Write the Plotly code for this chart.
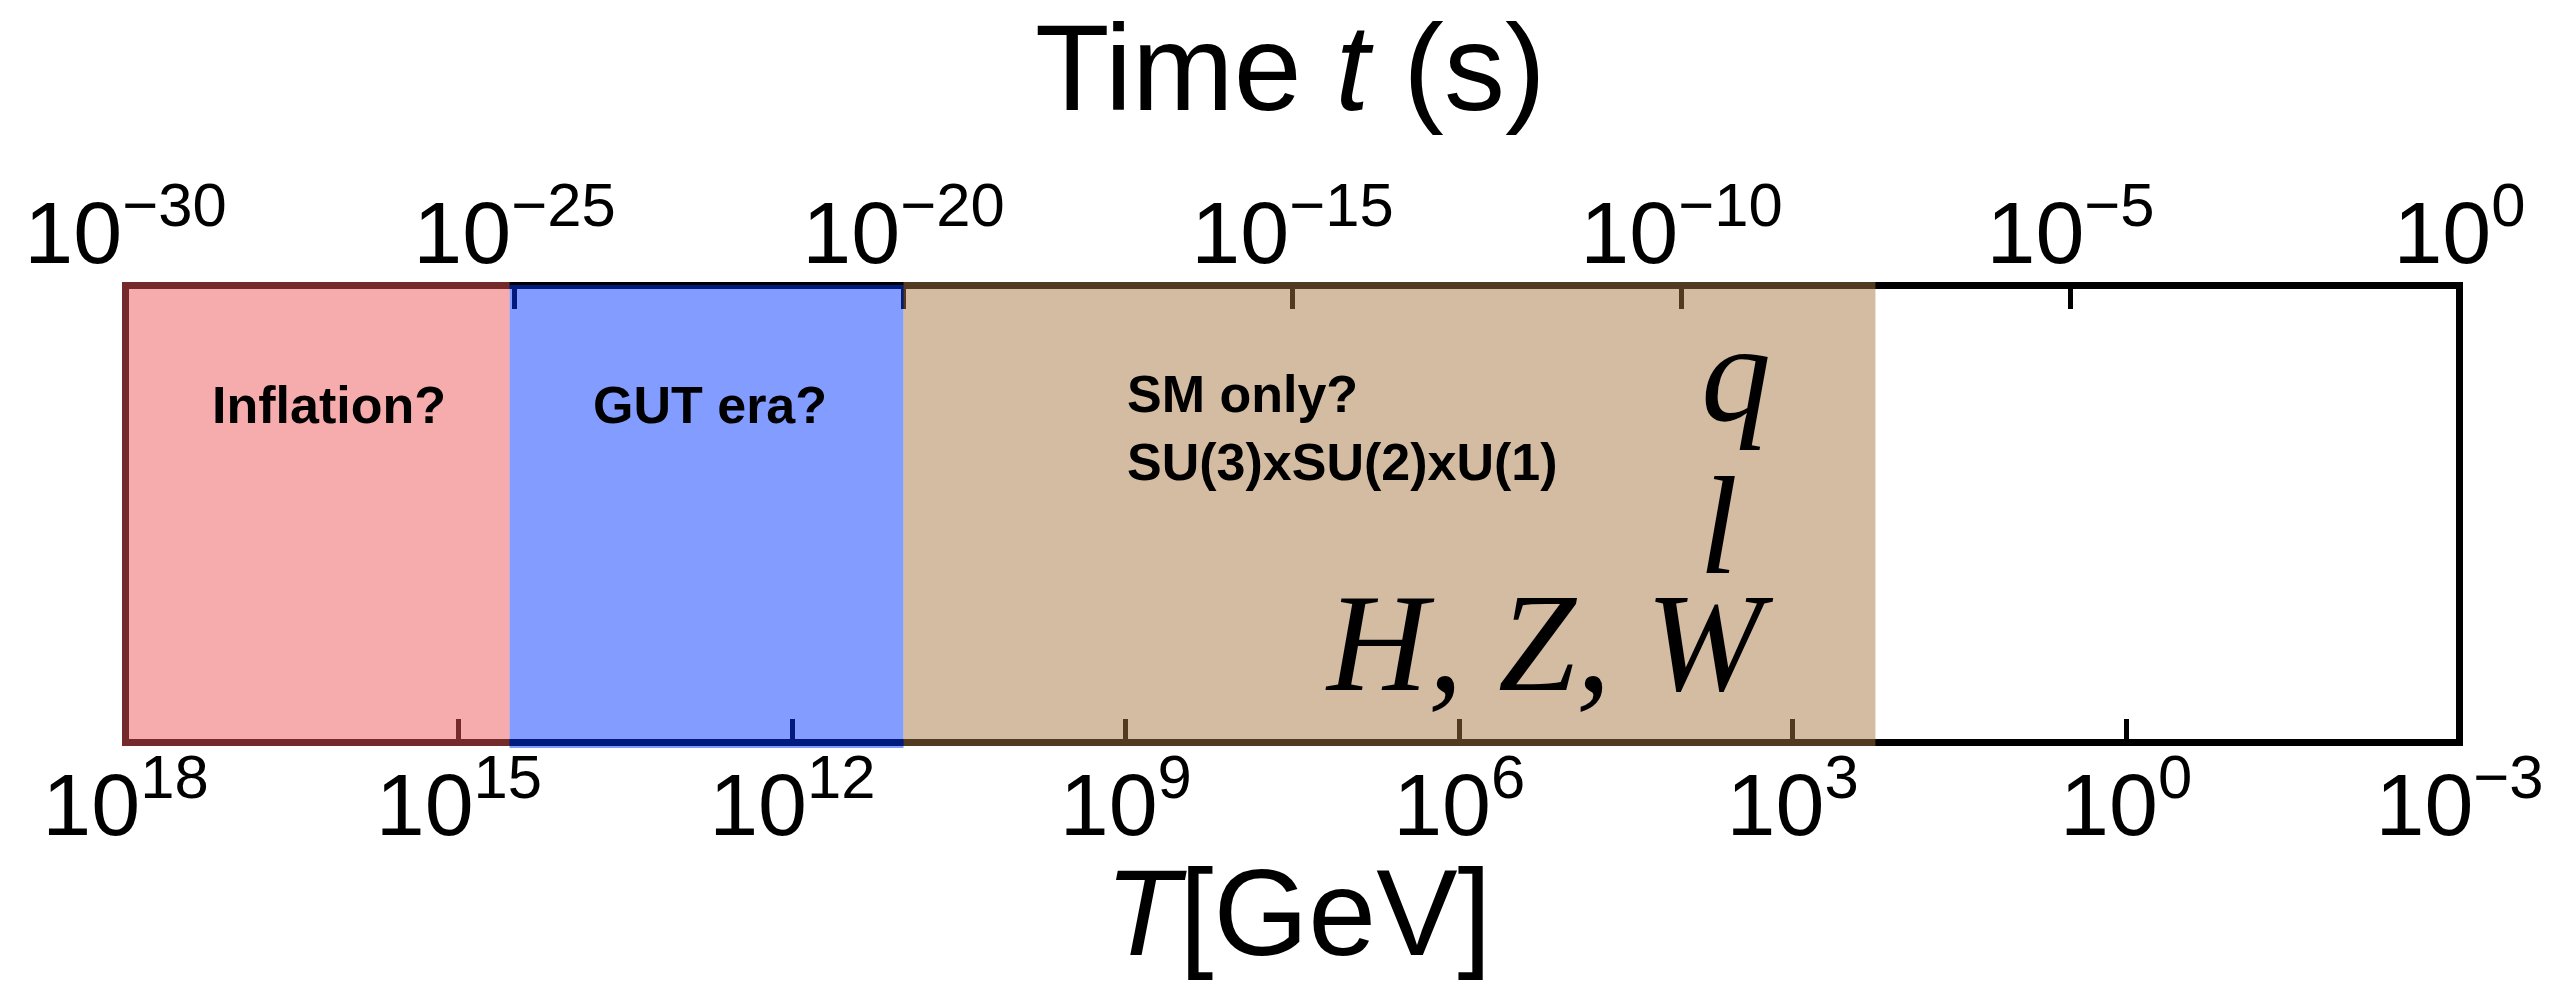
import plotly.graph_objects as go

# ---------------- data ----------------
era_names = ["Inflation?", "GUT era?", "SM only?<br>SU(3)xSU(2)xU(1)"]
era_T_bounds = [1e18, 3.5e14, 1e11, 180.0]          # GeV, era boundaries
era_fill = ["rgba(237,85,87,0.49)", "rgba(0,53,255,0.49)", "rgba(167,118,65,0.49)"]
T_tick_exp = [18, 15, 12, 9, 6, 3, 0, -3]            # bottom axis, T [GeV]
t_tick_exp = [-30, -25, -20, -15, -10, -5, 0]        # top axis, time [s]
T_axis_exp = [18, -3]
t_axis_exp = [-30, 0]
particle_labels = ["q", "l", "H, Z, W"]

# ---------------- geometry (px) ----------------
FIG_W, FIG_H = 2561, 983
L, R, T, B = 122, 2463, 282, 746      # outer edges of the frame
SPINE = 7
PW, PH = R - L, B - T
half = SPINE / 2


def padded(r, n_px):
    span = r[1] - r[0]
    d = span / (n_px - SPINE) * half
    return [r[0] - d, r[1] + d]


T_range = padded(T_axis_exp, PW)
t_range = padded(t_axis_exp, PW)
y_pad = half / (PH - SPINE)


def sup_label(e):
    return "10<sup>" + str(e).replace("-", "\u2212") + "</sup>"


def px(xp):
    return (xp - L) / PW


def py(yp):
    return (B - yp) / PH


SANS = "Liberation Sans, Arial, Helvetica, sans-serif"
SERIF = "Liberation Serif, Times New Roman, serif"

fig = go.Figure()
fig.add_trace(go.Scatter(x=era_T_bounds, y=[0.5] * len(era_T_bounds), xaxis="x", yaxis="y",
                         mode="markers", marker=dict(size=1, color="rgba(0,0,0,0)"),
                         hoverinfo="skip", showlegend=False))
fig.add_trace(go.Scatter(x=[10.0 ** e for e in t_tick_exp], y=[0.5] * len(t_tick_exp),
                         xaxis="x2", yaxis="y", mode="markers",
                         marker=dict(size=1, color="rgba(0,0,0,0)"),
                         hoverinfo="skip", showlegend=False))

tick_font = dict(family=SANS, size=88, color="black")
common_axis = dict(type="log", showgrid=False, zeroline=False, showline=False,
                   ticks="inside", ticklen=27, tickwidth=5, tickcolor="black",
                   tickangle=0, tickfont=tick_font)

fig.update_layout(
    width=FIG_W, height=FIG_H,
    margin=dict(l=L, r=FIG_W - R, t=T, b=FIG_H - B, pad=0),
    paper_bgcolor="white", plot_bgcolor="white",
    showlegend=False,
    xaxis=dict(range=T_range, tickmode="array",
               tickvals=[10.0 ** e for e in T_tick_exp],
               ticktext=[sup_label(e) for e in T_tick_exp], **common_axis),
    xaxis2=dict(range=t_range, overlaying="x", side="top", anchor="y", tickmode="array",
                tickvals=[10.0 ** e for e in t_tick_exp],
                ticktext=[sup_label(e) for e in t_tick_exp], **common_axis),
    yaxis=dict(range=[-y_pad, 1 + y_pad], showgrid=False, zeroline=False, showline=False,
               showticklabels=False, ticks=""),
)

# frame
shapes = [dict(type="rect", xref="x", yref="y", x0=10.0 ** T_axis_exp[0], x1=10.0 ** T_axis_exp[1],
               y0=0, y1=1, line=dict(color="black", width=SPINE),
               fillcolor="rgba(0,0,0,0)", layer="above")]
# era bands (drawn above the frame so that spines and ticks are tinted)
band_y = [(0.0, 1.0), (py(748), py(285)), (0.0, 1.0)]
for i in range(len(era_names)):
    x0 = era_T_bounds[i] if i > 0 else 10.0 ** T_range[0]
    shapes.append(dict(type="rect", xref="x", yref="paper", x0=x0, x1=era_T_bounds[i + 1],
                       y0=band_y[i][0], y1=band_y[i][1], line=dict(width=0),
                       fillcolor=era_fill[i], layer="above"))
fig.update_layout(shapes=shapes)

K_SANS, K_SERIF = 0.3465, 0.3375


def ann(text, xpx, baseline, size, family, xanchor="center", bold=False, k=K_SANS, align="center"):
    return dict(text=text, x=px(xpx), y=py(baseline - k * size), xref="paper", yref="paper",
                xanchor=xanchor, yanchor="middle", showarrow=False, borderpad=0, align=align,
                font=dict(family=family, size=size, color="black",
                          weight="bold" if bold else "normal"))


annotations = [
    ann("Time <i>t</i> (s)", 1290, 110, 122, SANS),
    ann("<i>T</i>[GeV]", 1298, 955, 122, SANS),
    ann(era_names[0], 329, 423, 52, SANS, bold=True),
    ann(era_names[1], 710, 423, 52, SANS, bold=True),
    ann(era_names[2], 1126, 446.5, 52, SANS, xanchor="left", bold=True, align="left"),
    ann("<i>%s</i>" % particle_labels[0], 1700, 420, 140, SERIF, xanchor="left", k=K_SERIF),
    ann("<i>%s</i>" % particle_labels[1], 1698, 573, 140, SERIF, xanchor="left", k=K_SERIF),
    ann("<i>%s</i>" % particle_labels[2], 1775, 690, 140, SERIF, xanchor="right", k=K_SERIF),
]
fig.update_layout(annotations=annotations)

fig.write_html("out.html", config={"displayModeBar": False},
               post_script="document.body.style.margin='0px';document.body.style.overflow='hidden';")
